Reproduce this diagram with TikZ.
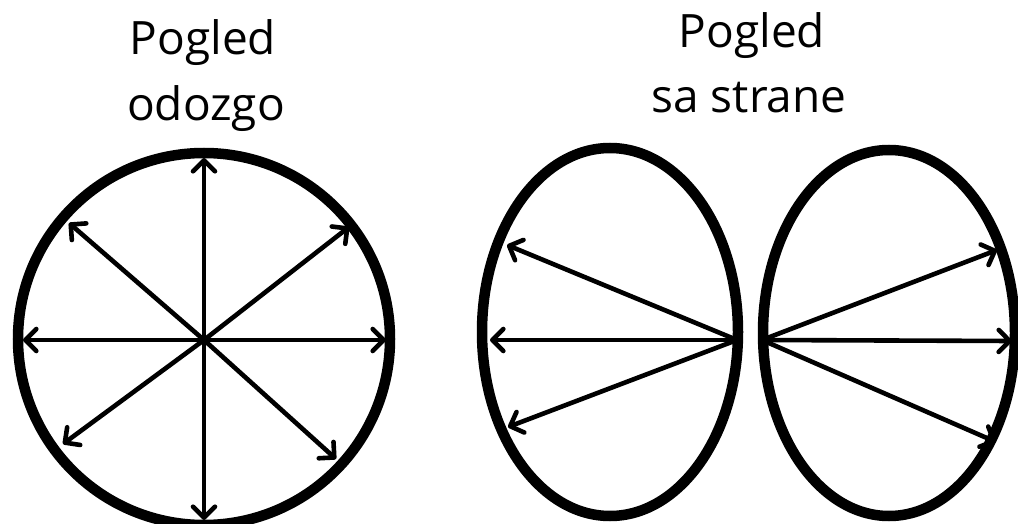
\documentclass[tikz,border=0pt]{standalone}
\usepackage{fontspec}
\setmainfont{Open Sans}
\usetikzlibrary{arrows.meta}
\tikzset{
  ring/.style={line width=10.5pt, draw=black},
  arr/.style={line width=4.6pt, line cap=round, -{Straight Barb[length=11pt,width=22pt,line cap=round,line join=round]}},
  title/.style={font=\fontsize{46}{55}\selectfont, inner sep=0pt, anchor=base}
}
\begin{document}
\begin{tikzpicture}[x=1pt,y=-1pt]
\useasboundingbox (0,0) rectangle (1018,524);
% titles
\node[title] (t1a) at (203,55) {Pogled};
\node[title] (t1b) at (206,121) {odozgo};
\node[title] (t2a) at (752,48) {Pogled};
\node[title] (t2b) at (749,113) {sa strane};
% top view circle
\draw[ring] (204,339) circle [radius=186];
\coordinate (c) at (204,340);
\coordinate (cu) at (204,158);
\coordinate (cd) at (204,520);
\coordinate (cl) at (23,340);
\coordinate (cr) at (386,340);
\coordinate (cul) at (69,223);
\coordinate (cur) at (349,227);
\coordinate (cdl) at (63,444);
\coordinate (cdr) at (336,459);
\foreach \t in {cu,cd,cl,cr,cul,cur,cdl,cdr} \draw[arr] (c) -- (\t);
% side view ellipses
\draw[ring] (610,332) ellipse [x radius=128, y radius=184];
\draw[ring] (889,333) ellipse [x radius=126, y radius=183];
\coordinate (l0) at (737,340);
\coordinate (l1) at (490,340);
\coordinate (l2) at (507,245);
\coordinate (l3) at (508,427);
\coordinate (r0) at (762,340);
\coordinate (r1) at (1012,341);
\coordinate (r2) at (997,250);
\coordinate (r3) at (996,442);
\foreach \t in {l1,l2,l3} \draw[arr] (l0) -- (\t);
\foreach \t in {r1,r2,r3} \draw[arr] (r0) -- (\t);
\end{tikzpicture}
\end{document}
